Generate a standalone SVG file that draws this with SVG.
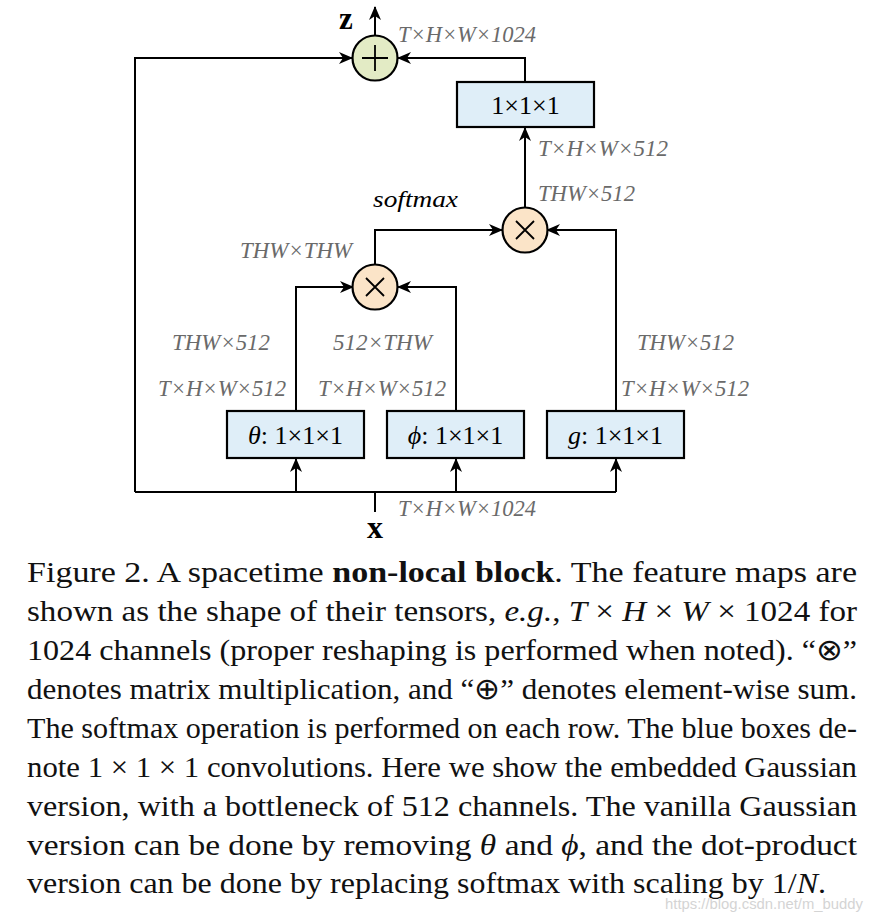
<svg xmlns="http://www.w3.org/2000/svg" width="882" height="914" viewBox="0 0 882 914">
<style>
text{font-family:"Liberation Serif","Times New Roman",Times,serif}
.ln{fill:none;stroke:#000;stroke-width:2}
.box{fill:#dfeef8;stroke:#000;stroke-width:2.2}
.plus{fill:#e3ebc5;stroke:#000;stroke-width:2.2}
.mul{fill:#fbe4c8;stroke:#000;stroke-width:2.2}
.sym{stroke:#000;stroke-width:1.8;fill:none}
.lab{font-style:italic;font-size:22.5px;fill:#6a6a6a}
.bt{font-size:26px;fill:#000;text-anchor:middle}
.cap{font-size:30px;fill:#111}
.it{font-style:italic}
.bd{font-weight:bold}
.wm{font-family:"Liberation Sans Narrow","Liberation Sans",sans-serif;font-size:15px;fill:#d4d4d4}
</style>
<defs>
<marker id="ah" markerWidth="14" markerHeight="12" refX="13" refY="6" orient="auto" markerUnits="userSpaceOnUse">
<path d="M0,0 L14,6 L0,12 L4,6 z" fill="#000"/>
</marker>
</defs>
<g id="connectors">
<path class="ln" d="M135,492 L135,58 L352,58" marker-end="url(#ah)"/>
<path class="ln" d="M525,82 L525,58 L398,58" marker-end="url(#ah)"/>
<path class="ln" d="M375,35 L375,7" marker-end="url(#ah)"/>
<path class="ln" d="M135,492 L616,492"/>
<path class="ln" d="M375,492 L375,512"/>
<path class="ln" d="M296,492 L296,459" marker-end="url(#ah)"/>
<path class="ln" d="M456,492 L456,459" marker-end="url(#ah)"/>
<path class="ln" d="M616,492 L616,459" marker-end="url(#ah)"/>
<path class="ln" d="M296,411 L296,287 L353,287" marker-end="url(#ah)"/>
<path class="ln" d="M456,411 L456,287 L398,287" marker-end="url(#ah)"/>
<path class="ln" d="M616,411 L616,230 L547,230" marker-end="url(#ah)"/>
<path class="ln" d="M375,264 L375,230 L502,230" marker-end="url(#ah)"/>
<path class="ln" d="M525,207 L525,128" marker-end="url(#ah)"/>
</g>
<g id="sum">
<circle class="plus" cx="375" cy="58" r="22.5"/>
<path class="sym" d="M362,58 H388 M375,45 V71"/>
</g>
<g id="z"><text x="346" y="29" class="bd" font-size="31" text-anchor="middle">z</text></g>
<g id="x"><text x="375" y="538" class="bd" font-size="32" text-anchor="middle">x</text></g>
<g id="convOut">
<rect class="box" x="457" y="82" width="137" height="45"/>
<text class="bt" x="525.5" y="114">1×1×1</text>
</g>
<g id="mul2">
<circle class="mul" cx="525" cy="230" r="22.5"/>
<path class="sym" d="M516,221 L534,239 M534,221 L516,239"/>
</g>
<g id="mul1">
<circle class="mul" cx="375" cy="287" r="22.5"/>
<path class="sym" d="M366,278 L384,296 M384,278 L366,296"/>
</g>
<g id="theta">
<rect class="box" x="227" y="411" width="137" height="47"/>
<text class="bt" x="295.5" y="444"><tspan class="it">θ</tspan>: 1×1×1</text>
</g>
<g id="phi">
<rect class="box" x="387" y="411" width="137" height="47"/>
<text class="bt" x="455.5" y="444"><tspan class="it">ϕ</tspan>: 1×1×1</text>
</g>
<g id="g">
<rect class="box" x="547" y="411" width="137" height="47"/>
<text class="bt" x="615.5" y="444"><tspan class="it">g</tspan>: 1×1×1</text>
</g>
<g id="labels">
<text class="lab" x="398" y="42" textLength="138" lengthAdjust="spacingAndGlyphs">T×H×W×1024</text>
<text class="lab" x="538" y="156" textLength="130" lengthAdjust="spacingAndGlyphs">T×H×W×512</text>
<text class="lab" x="538" y="201" textLength="97" lengthAdjust="spacingAndGlyphs">THW×512</text>
<text class="lab" x="240" y="258" textLength="112" lengthAdjust="spacingAndGlyphs">THW×THW</text>
<text x="373" y="207" font-style="italic" font-size="23" fill="#000" textLength="85" lengthAdjust="spacingAndGlyphs">softmax</text>
<text class="lab" x="172" y="350" textLength="98" lengthAdjust="spacingAndGlyphs">THW×512</text>
<text class="lab" x="333" y="350" textLength="99" lengthAdjust="spacingAndGlyphs">512×THW</text>
<text class="lab" x="637" y="350" textLength="97" lengthAdjust="spacingAndGlyphs">THW×512</text>
<text class="lab" x="158" y="396" textLength="128" lengthAdjust="spacingAndGlyphs">T×H×W×512</text>
<text class="lab" x="318" y="396" textLength="128" lengthAdjust="spacingAndGlyphs">T×H×W×512</text>
<text class="lab" x="621" y="396" textLength="128" lengthAdjust="spacingAndGlyphs">T×H×W×512</text>
<text class="lab" x="398" y="516" textLength="138" lengthAdjust="spacingAndGlyphs">T×H×W×1024</text>
</g>
<g id="caption">
<text class="cap" x="27" y="582" textLength="830" lengthAdjust="spacingAndGlyphs">Figure 2. A spacetime <tspan class="bd">non-local block</tspan>.  The feature maps are</text>
<text class="cap" x="27" y="621" textLength="830" lengthAdjust="spacingAndGlyphs">shown as the shape of their tensors, <tspan class="it">e.g.</tspan>, <tspan class="it">T</tspan> × <tspan class="it">H</tspan> × <tspan class="it">W</tspan> × 1024 for</text>
<text class="cap" x="27" y="660" textLength="830" lengthAdjust="spacingAndGlyphs">1024 channels (proper reshaping is performed when noted). “⊗”</text>
<text class="cap" x="27" y="699" textLength="830" lengthAdjust="spacingAndGlyphs">denotes matrix multiplication, and “⊕” denotes element-wise sum.</text>
<text class="cap" x="27" y="738" textLength="830" lengthAdjust="spacingAndGlyphs">The softmax operation is performed on each row. The blue boxes de-</text>
<text class="cap" x="27" y="777" textLength="830" lengthAdjust="spacingAndGlyphs">note 1 × 1 × 1 convolutions. Here we show the embedded Gaussian</text>
<text class="cap" x="27" y="816" textLength="830" lengthAdjust="spacingAndGlyphs">version, with a bottleneck of 512 channels. The vanilla Gaussian</text>
<text class="cap" x="27" y="855" textLength="830" lengthAdjust="spacingAndGlyphs">version can be done by removing <tspan class="it">θ</tspan> and <tspan class="it">ϕ</tspan>, and the dot-product</text>
<text class="cap" x="27" y="893" textLength="799" lengthAdjust="spacingAndGlyphs">version can be done by replacing softmax with scaling by 1/<tspan class="it">N</tspan>.</text>
</g>
<g id="watermark">
<text class="wm" x="665" y="909" textLength="198" lengthAdjust="spacingAndGlyphs">https://blog.csdn.net/m_buddy</text>
</g>
</svg>
